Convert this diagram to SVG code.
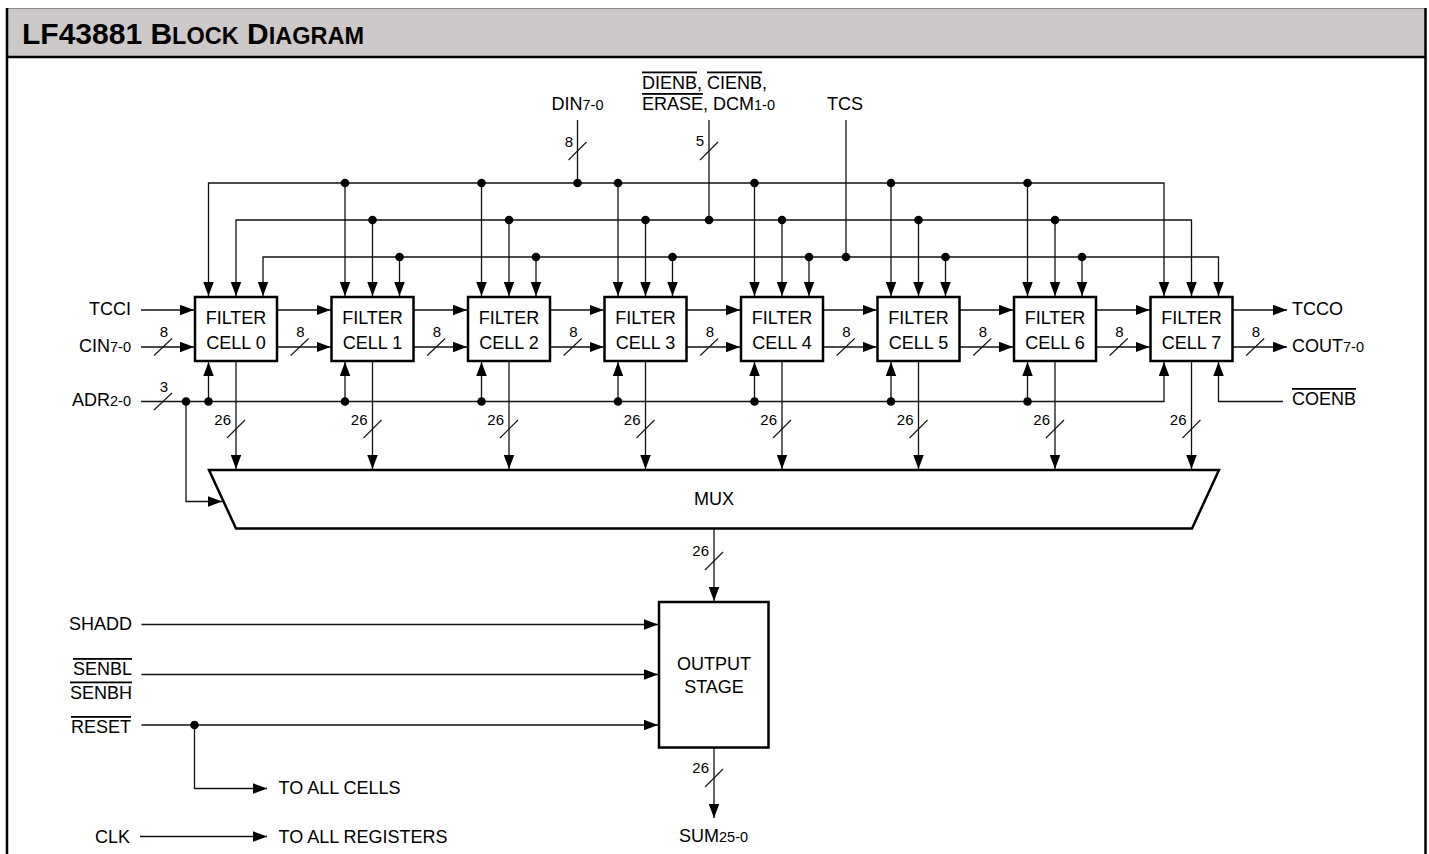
<svg xmlns="http://www.w3.org/2000/svg" width="1429" height="854" viewBox="0 0 1429 854">
<style>
text{font-family:"Liberation Sans",Arial,sans-serif;fill:#000;font-size:18px}
.s{font-size:14.5px}
.n{font-size:15px}
.m{text-anchor:middle}
.e{text-anchor:end}
.ov{text-decoration:overline}
.w{fill:none;stroke:#111;stroke-width:1.3}
.a{marker-end:url(#ah)}
.box{fill:#fff;stroke:#000;stroke-width:2.5}
.dot{fill:#000}
.sl{stroke:#111;stroke-width:1.1}
</style>
<defs>
<marker id="ah" markerUnits="userSpaceOnUse" markerWidth="14" markerHeight="11" refX="14" refY="5.25" orient="auto-start-reverse" viewBox="0 0 14 10.5"><path d="M0,0 L14,5.25 L0,10.5 z" fill="#000"/></marker>
</defs>
<rect width="1429" height="854" fill="#fff"/>
<g id="frame">
<rect x="7" y="8" width="1418.5" height="49" fill="#cdc9c9"/>
<line x1="7" y1="8.5" x2="1425.5" y2="8.5" stroke="#888" stroke-width="1.2"/>
<line x1="7" y1="57" x2="1425.5" y2="57" stroke="#000" stroke-width="2.5"/>
<line x1="7" y1="8" x2="7" y2="854" stroke="#000" stroke-width="2.5"/>
<line x1="1425.5" y1="8" x2="1425.5" y2="854" stroke="#000" stroke-width="2.5"/>
<text x="22" y="44" style="font-weight:bold;font-size:30px">LF43881 B<tspan style="font-size:23.5px">LOCK</tspan> D<tspan style="font-size:23.5px">IAGRAM</tspan></text>
</g>
<g id="connectors">
<path class="w a" style="marker-start:url(#ah)" d="M208.5,296 V183 H1164 V296"/>
<path class="w a" style="marker-start:url(#ah)" d="M236,296 V220 H1191.5 V296"/>
<path class="w a" style="marker-start:url(#ah)" d="M263,296 V257 H1218.5 V296"/>
<path class="w a" d="M345,183 V296"/><path class="w a" d="M372.5,220 V296"/><path class="w a" d="M399.5,257 V296"/>
<path class="w a" d="M481.5,183 V296"/><path class="w a" d="M509,220 V296"/><path class="w a" d="M536,257 V296"/>
<path class="w a" d="M618,183 V296"/><path class="w a" d="M645.5,220 V296"/><path class="w a" d="M672.5,257 V296"/>
<path class="w a" d="M754.5,183 V296"/><path class="w a" d="M782,220 V296"/><path class="w a" d="M809,257 V296"/>
<path class="w a" d="M891,183 V296"/><path class="w a" d="M918.5,220 V296"/><path class="w a" d="M945.5,257 V296"/>
<path class="w a" d="M1027.5,183 V296"/><path class="w a" d="M1055,220 V296"/><path class="w a" d="M1082,257 V296"/>
<path class="w" d="M577.5,120 V183"/>
<path class="w" d="M709,120 V220"/>
<path class="w" d="M846,120 V257"/>
<path class="w a" d="M141,310 H194"/><path class="w a" d="M141,347 H194"/>
<path class="w a" d="M277,310 H330.5"/><path class="w a" d="M277,347 H330.5"/>
<path class="w a" d="M413.5,310 H467"/><path class="w a" d="M413.5,347 H467"/>
<path class="w a" d="M550,310 H603.5"/><path class="w a" d="M550,347 H603.5"/>
<path class="w a" d="M686.5,310 H740"/><path class="w a" d="M686.5,347 H740"/>
<path class="w a" d="M823,310 H876.5"/><path class="w a" d="M823,347 H876.5"/>
<path class="w a" d="M959.5,310 H1013"/><path class="w a" d="M959.5,347 H1013"/>
<path class="w a" d="M1096,310 H1149.5"/><path class="w a" d="M1096,347 H1149.5"/>
<path class="w a" d="M1232.5,310 H1287"/><path class="w a" d="M1232.5,347 H1287"/>
<path class="w a" d="M141,401.5 H1164 V362"/>
<path class="w a" d="M208.5,401.5 V362"/><path class="w a" d="M345,401.5 V362"/><path class="w a" d="M481.5,401.5 V362"/>
<path class="w a" d="M618,401.5 V362"/><path class="w a" d="M754.5,401.5 V362"/><path class="w a" d="M891,401.5 V362"/>
<path class="w a" d="M1027.5,401.5 V362"/>
<path class="w a" d="M186,401.5 V501.5 H222"/>
<path class="w a" d="M1283,401.5 H1218.5 V362"/>
<path class="w a" d="M236,362 V469"/><path class="w a" d="M372.5,362 V469"/><path class="w a" d="M509,362 V469"/>
<path class="w a" d="M645.5,362 V469"/><path class="w a" d="M782,362 V469"/><path class="w a" d="M918.5,362 V469"/>
<path class="w a" d="M1055,362 V469"/><path class="w a" d="M1191.5,362 V469"/>
<path class="w a" d="M714,529 V601"/>
<path class="w a" d="M714,748 V818"/>
<path class="w a" d="M141.5,624.5 H658"/>
<path class="w a" d="M141.5,674.5 H658"/>
<path class="w a" d="M141.5,725 H658"/>
<path class="w a" d="M194.5,725 V788.5 H267"/>
<path class="w a" d="M140,836.5 H267"/>
<g class="dot">
<circle cx="577.5" cy="183" r="4.3"/><circle cx="709" cy="220" r="4.3"/><circle cx="846" cy="257" r="4.3"/>
<circle cx="345" cy="183" r="4.3"/><circle cx="481.5" cy="183" r="4.3"/><circle cx="618" cy="183" r="4.3"/><circle cx="754.5" cy="183" r="4.3"/><circle cx="891" cy="183" r="4.3"/><circle cx="1027.5" cy="183" r="4.3"/>
<circle cx="372.5" cy="220" r="4.3"/><circle cx="509" cy="220" r="4.3"/><circle cx="645.5" cy="220" r="4.3"/><circle cx="782" cy="220" r="4.3"/><circle cx="918.5" cy="220" r="4.3"/><circle cx="1055" cy="220" r="4.3"/>
<circle cx="399.5" cy="257" r="4.3"/><circle cx="536" cy="257" r="4.3"/><circle cx="672.5" cy="257" r="4.3"/><circle cx="809" cy="257" r="4.3"/><circle cx="945.5" cy="257" r="4.3"/><circle cx="1082" cy="257" r="4.3"/>
<circle cx="186" cy="401.5" r="4.3"/>
<circle cx="208.5" cy="401.5" r="4.3"/><circle cx="345" cy="401.5" r="4.3"/><circle cx="481.5" cy="401.5" r="4.3"/><circle cx="618" cy="401.5" r="4.3"/><circle cx="754.5" cy="401.5" r="4.3"/><circle cx="891" cy="401.5" r="4.3"/><circle cx="1027.5" cy="401.5" r="4.3"/>
<circle cx="194.5" cy="725" r="4.3"/>
</g>
<g class="sl">
<line x1="568.5" y1="160" x2="586.5" y2="142"/>
<line x1="700" y1="160" x2="718" y2="142"/>
<line x1="154" y1="355.5" x2="172" y2="338.5"/>
<line x1="290.7" y1="355.5" x2="308.7" y2="338.5"/>
<line x1="427.2" y1="355.5" x2="445.2" y2="338.5"/>
<line x1="563.7" y1="355.5" x2="581.7" y2="338.5"/>
<line x1="700.2" y1="355.5" x2="718.2" y2="338.5"/>
<line x1="836.7" y1="355.5" x2="854.7" y2="338.5"/>
<line x1="973.2" y1="355.5" x2="991.2" y2="338.5"/>
<line x1="1109.7" y1="355.5" x2="1127.7" y2="338.5"/>
<line x1="1246.2" y1="355.5" x2="1264.2" y2="338.5"/>
<line x1="154" y1="410" x2="172" y2="393"/>
<line x1="227" y1="438" x2="245" y2="420"/>
<line x1="363.5" y1="438" x2="381.5" y2="420"/>
<line x1="500" y1="438" x2="518" y2="420"/>
<line x1="636.5" y1="438" x2="654.5" y2="420"/>
<line x1="773" y1="438" x2="791" y2="420"/>
<line x1="909.5" y1="438" x2="927.5" y2="420"/>
<line x1="1046" y1="438" x2="1064" y2="420"/>
<line x1="1182.5" y1="438" x2="1200.5" y2="420"/>
<line x1="705" y1="570" x2="723" y2="552"/>
<line x1="705" y1="787" x2="723" y2="769"/>
</g>
</g>
<g id="bus-labels">
<text class="n m" x="569" y="147">8</text>
<text class="n m" x="700" y="146">5</text>
<text class="n m" x="164" y="337">8</text>
<text class="n m" x="300.5" y="337">8</text>
<text class="n m" x="437" y="337">8</text>
<text class="n m" x="573.5" y="337">8</text>
<text class="n m" x="710" y="337">8</text>
<text class="n m" x="846.5" y="337">8</text>
<text class="n m" x="983" y="337">8</text>
<text class="n m" x="1119.5" y="337">8</text>
<text class="n m" x="1256" y="337">8</text>
<text class="n m" x="164" y="392">3</text>
<text class="n e" x="231" y="425">26</text>
<text class="n e" x="367.5" y="425">26</text>
<text class="n e" x="504" y="425">26</text>
<text class="n e" x="640.5" y="425">26</text>
<text class="n e" x="777" y="425">26</text>
<text class="n e" x="913.5" y="425">26</text>
<text class="n e" x="1050" y="425">26</text>
<text class="n e" x="1186.5" y="425">26</text>
<text class="n e" x="709" y="556">26</text>
<text class="n e" x="709" y="773">26</text>
</g>
<g id="signal-labels">
<text x="551.5" y="110">DIN<tspan class="s">7-0</tspan></text>
<text x="642" y="88.5"><tspan class="ov">DIENB</tspan>, <tspan class="ov">CIENB</tspan>,</text>
<text x="642" y="110"><tspan class="ov">ERASE</tspan>, DCM<tspan class="s">1-0</tspan></text>
<text x="827" y="110">TCS</text>
<text class="e" x="131" y="315">TCCI</text>
<text class="e" x="131" y="352">CIN<tspan class="s">7-0</tspan></text>
<text class="e" x="131" y="406">ADR<tspan class="s">2-0</tspan></text>
<text x="1292" y="315">TCCO</text>
<text x="1292" y="352">COUT<tspan class="s">7-0</tspan></text>
<text x="1292" y="405"><tspan class="ov">COENB</tspan></text>
<text class="e" x="132" y="629.5">SHADD</text>
<text class="e" x="132" y="675"><tspan class="ov">SENBL</tspan></text>
<text class="e" x="132" y="698.5"><tspan class="ov">SENBH</tspan></text>
<text class="e" x="131" y="733"><tspan class="ov">RESET</tspan></text>
<text x="278.5" y="794">TO ALL CELLS</text>
<text class="e" x="130" y="842.5">CLK</text>
<text x="278.5" y="842.5">TO ALL REGISTERS</text>
<text x="679" y="842">SUM<tspan class="s">25-0</tspan></text>
</g>
<g id="cell0"><rect class="box" x="195" y="297" width="82" height="64"/><text class="m" x="236" y="323.5">FILTER</text><text class="m" x="236" y="348.5">CELL 0</text></g>
<g id="cell1"><rect class="box" x="331.5" y="297" width="82" height="64"/><text class="m" x="372.5" y="323.5">FILTER</text><text class="m" x="372.5" y="348.5">CELL 1</text></g>
<g id="cell2"><rect class="box" x="468" y="297" width="82" height="64"/><text class="m" x="509" y="323.5">FILTER</text><text class="m" x="509" y="348.5">CELL 2</text></g>
<g id="cell3"><rect class="box" x="604.5" y="297" width="82" height="64"/><text class="m" x="645.5" y="323.5">FILTER</text><text class="m" x="645.5" y="348.5">CELL 3</text></g>
<g id="cell4"><rect class="box" x="741" y="297" width="82" height="64"/><text class="m" x="782" y="323.5">FILTER</text><text class="m" x="782" y="348.5">CELL 4</text></g>
<g id="cell5"><rect class="box" x="877.5" y="297" width="82" height="64"/><text class="m" x="918.5" y="323.5">FILTER</text><text class="m" x="918.5" y="348.5">CELL 5</text></g>
<g id="cell6"><rect class="box" x="1014" y="297" width="82" height="64"/><text class="m" x="1055" y="323.5">FILTER</text><text class="m" x="1055" y="348.5">CELL 6</text></g>
<g id="cell7"><rect class="box" x="1150.5" y="297" width="82" height="64"/><text class="m" x="1191.5" y="323.5">FILTER</text><text class="m" x="1191.5" y="348.5">CELL 7</text></g>
<g id="mux"><polygon class="box" points="209,470 1219,470 1192,528.5 236,528.5"/><text class="m" x="714" y="505">MUX</text></g>
<g id="output-stage"><rect class="box" x="659" y="602" width="109.5" height="145.5"/><text class="m" x="714" y="670">OUTPUT</text><text class="m" x="714" y="693">STAGE</text></g>
</svg>
